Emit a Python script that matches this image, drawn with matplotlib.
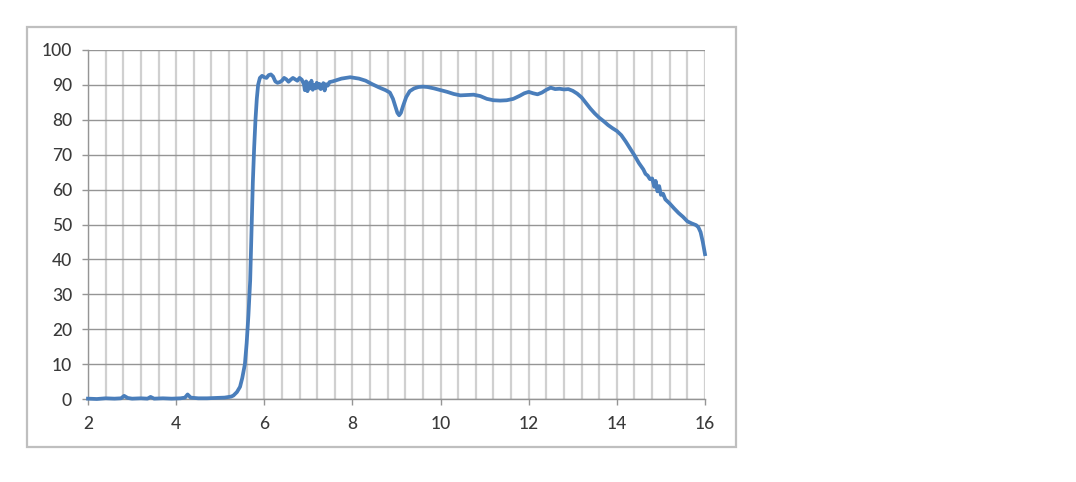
import matplotlib
matplotlib.use("Agg")
import matplotlib.pyplot as plt
from matplotlib.ticker import MultipleLocator
from matplotlib.patches import Rectangle

# ---- data ----
x_vals = [
    2.0, 2.2, 2.4, 2.6, 2.75, 2.82, 2.9, 3.0, 3.2, 3.35, 3.42, 3.5, 3.7, 3.9, 4.1, 4.2, 4.26, 4.33,
    4.5, 4.7, 4.9, 5.1, 5.25,
    5.3, 5.38, 5.45, 5.5, 5.56, 5.6, 5.64, 5.68, 5.71, 5.74, 5.77, 5.8, 5.83, 5.86, 5.9, 5.95,
    6.0, 6.05, 6.1, 6.15, 6.2, 6.25, 6.3, 6.35, 6.4, 6.45, 6.5, 6.55, 6.6, 6.65, 6.7, 6.75, 6.8,
    6.85, 6.9,
    6.92, 6.95, 6.98, 7.01, 7.04, 7.07, 7.1, 7.13, 7.16, 7.19, 7.22, 7.25, 7.28, 7.31, 7.34, 7.37,
    7.4, 7.44, 7.48,
    7.55, 7.65, 7.75, 7.85, 7.95, 8.05, 8.15, 8.3, 8.45, 8.6, 8.75, 8.85, 8.92, 8.97, 9.02, 9.06,
    9.1, 9.15, 9.22, 9.3, 9.4, 9.5, 9.6, 9.7, 9.85, 10.0, 10.15, 10.3, 10.45, 10.6, 10.75, 10.9,
    11.05, 11.2, 11.35, 11.5, 11.65, 11.8, 11.9, 12.0, 12.1, 12.2, 12.3, 12.4, 12.5, 12.6, 12.7,
    12.8, 12.9, 13.0, 13.1, 13.2, 13.3, 13.4, 13.5, 13.6, 13.7, 13.8, 13.9, 14.0, 14.1, 14.2,
    14.3, 14.4, 14.5, 14.6, 14.65, 14.7, 14.75, 14.8, 14.85, 14.88, 14.92, 14.96, 15.0, 15.05,
    15.1, 15.2, 15.3, 15.4, 15.5, 15.6, 15.7, 15.8, 15.85, 15.9, 15.95, 16.0,
]
y_vals = [
    0.1, 0.0, 0.2, 0.1, 0.2, 0.9, 0.3, 0.1, 0.2, 0.1, 0.6, 0.1, 0.2, 0.1, 0.2, 0.4, 1.3, 0.4,
    0.2, 0.2, 0.3, 0.4, 0.7,
    1.0, 2.0, 3.5, 6.0, 10.0, 16.0, 24.0, 34.0, 48.0, 62.0, 72.0, 80.0, 86.0, 90.0, 92.0, 92.6,
    92.2, 92.0, 92.8, 93.0, 92.4, 91.0, 90.6, 90.8, 91.2, 92.0, 91.6, 90.9, 91.5, 92.0, 91.6, 91.2,
    92.0, 91.5, 90.2,
    88.5, 91.0, 88.2, 90.5, 89.0, 91.2, 88.6, 90.0, 89.0, 90.6, 89.2, 90.3, 88.8, 89.6, 90.5, 88.4,
    90.2, 89.8, 90.8,
    91.0, 91.4, 91.8, 92.0, 92.2, 92.0, 91.8, 91.2, 90.2, 89.3, 88.5, 87.8, 86.0, 84.0, 82.0, 81.3,
    82.0, 84.0, 86.5, 88.2, 89.0, 89.4, 89.5, 89.4, 89.0, 88.5, 88.0, 87.4, 87.0, 87.1, 87.2, 86.8,
    86.0, 85.6, 85.5, 85.6, 86.0, 86.9, 87.6, 88.0, 87.6, 87.3, 87.8, 88.6, 89.2, 88.8, 88.9,
    88.7, 88.8, 88.3, 87.5, 86.4, 84.8, 83.2, 81.8, 80.6, 79.6, 78.5, 77.6, 76.8, 75.6, 73.8,
    71.8, 69.8, 67.6, 65.8, 64.5, 64.0, 63.0, 63.2, 60.8, 62.5, 59.5, 61.0, 58.5, 58.8,
    57.2, 56.0, 54.6, 53.3, 52.2, 50.9, 50.3, 49.8, 49.2, 47.8, 45.0, 41.5,
]
x_ticks = [2, 4, 6, 8, 10, 12, 14, 16]
y_ticks = [0, 10, 20, 30, 40, 50, 60, 70, 80, 90, 100]

W, H = 1076, 482
fig = plt.figure(figsize=(W / 100, H / 100), dpi=100)
fig.patch.set_facecolor("white")

# outer chart border
fig.patches.append(Rectangle((27 / W, 1 - 447 / H), (736 - 27) / W, (447 - 27) / H,
                             transform=fig.transFigure, fill=False,
                             edgecolor="#BFBFBF", linewidth=1.6))

ax = fig.add_axes([88 / W, 1 - 399 / H, (705 - 88) / W, (399 - 50) / H])
ax.set_xlim(2, 16)
ax.set_ylim(0, 100)

ax.set_xticks(x_ticks)
ax.set_yticks(y_ticks)
ax.xaxis.set_minor_locator(MultipleLocator(0.4))

ax.grid(which="minor", axis="x", color="#D0D0D0", linewidth=1.6)
ax.grid(which="major", axis="x", color="#D0D0D0", linewidth=1.6)
ax.grid(which="major", axis="y", color="#959595", linewidth=1.0)
ax.set_axisbelow(True)

for s in ["top", "right"]:
    ax.spines[s].set_visible(False)
for s in ["left", "bottom"]:
    ax.spines[s].set_color("#959595")
    ax.spines[s].set_linewidth(1.0)

ax.tick_params(axis="both", which="major", direction="out", length=4.5, width=1.0,
               color="#959595", labelcolor="#3A3A3A", labelsize=12.5)
ax.tick_params(axis="x", which="minor", length=0)
ax.tick_params(axis="y", pad=7)
ax.tick_params(axis="x", pad=8)
for lab in ax.get_xticklabels() + ax.get_yticklabels():
    lab.set_fontfamily(["Lato", "DejaVu Sans"])
    lab.set_fontweight("medium")

ax.plot(x_vals, y_vals, color="#4A7EBB", linewidth=2.7, solid_joinstyle="round",
        clip_on=False, zorder=3)

fig.savefig("out.png", dpi=100, facecolor="white")
